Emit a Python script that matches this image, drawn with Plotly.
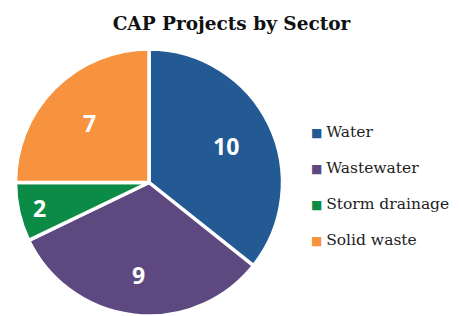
import math
import plotly.graph_objects as go

sectors = ["Water", "Wastewater", "Storm drainage", "Solid waste"]
projects = [10, 9, 2, 7]
colors = ["#235A94", "#5D4880", "#0B8B46", "#F7923F"]
label_radius = [0.64, 0.69, 0.84, 0.63]  # fraction of pie radius for value labels

# the page body has an 8px margin; the figure is sized to the visible area
OFF = 8
W, H = 459 - OFF, 316 - OFF


def px(x):
    return (x - OFF) / W


def py(y):
    return 1 - (y - OFF) / H


CX, CY, R = 149, 183, 134  # pie centre / radius on screen

fig = go.Figure()
fig.add_trace(go.Pie(
    labels=sectors,
    values=projects,
    sort=False,
    direction="clockwise",
    rotation=0,
    marker=dict(colors=colors, line=dict(color="white", width=3.5)),
    textinfo="none",
    domain=dict(x=[px(CX - R), px(CX + R)], y=[max(0, py(CY + R)), py(CY - R)]),
    showlegend=False,
    hoverinfo="label+value",
))

# value labels placed at each slice's mid-angle
total = sum(projects)
cum = 0
for v, f in zip(projects, label_radius):
    mid = (cum + v / 2) / total * 2 * math.pi
    cum += v
    lx = CX + f * R * math.sin(mid)
    ly = CY - f * R * math.cos(mid)
    fig.add_annotation(
        x=px(lx), y=py(ly), xref="paper", yref="paper", showarrow=False,
        xanchor="center", yanchor="middle", text=str(v),
        font=dict(family="Open Sans", size=23, color="white", weight="bold"),
    )

# legend drawn as annotations
leg_y = [132, 168, 204, 240]
for name, col, ly in zip(sectors, colors, leg_y):
    fig.add_annotation(
        x=px(309), y=py(ly), xref="paper", yref="paper",
        xanchor="left", yanchor="middle", showarrow=False,
        text=f"<span style='color:{col};font-size:12px'>■ </span>{name}",
        font=dict(family="DejaVu Serif", size=15.5, color="#222222"),
    )

fig.update_layout(
    width=W, height=H,
    margin=dict(l=0, r=0, t=0, b=0),
    paper_bgcolor="white", plot_bgcolor="white",
    title=dict(text="<b>CAP Projects by Sector</b>", x=px(231.5), y=py(23.5),
               xanchor="center", yanchor="middle",
               font=dict(family="DejaVu Serif", size=18.5, color="#111111")),
)

fig.write_html("out.html")
